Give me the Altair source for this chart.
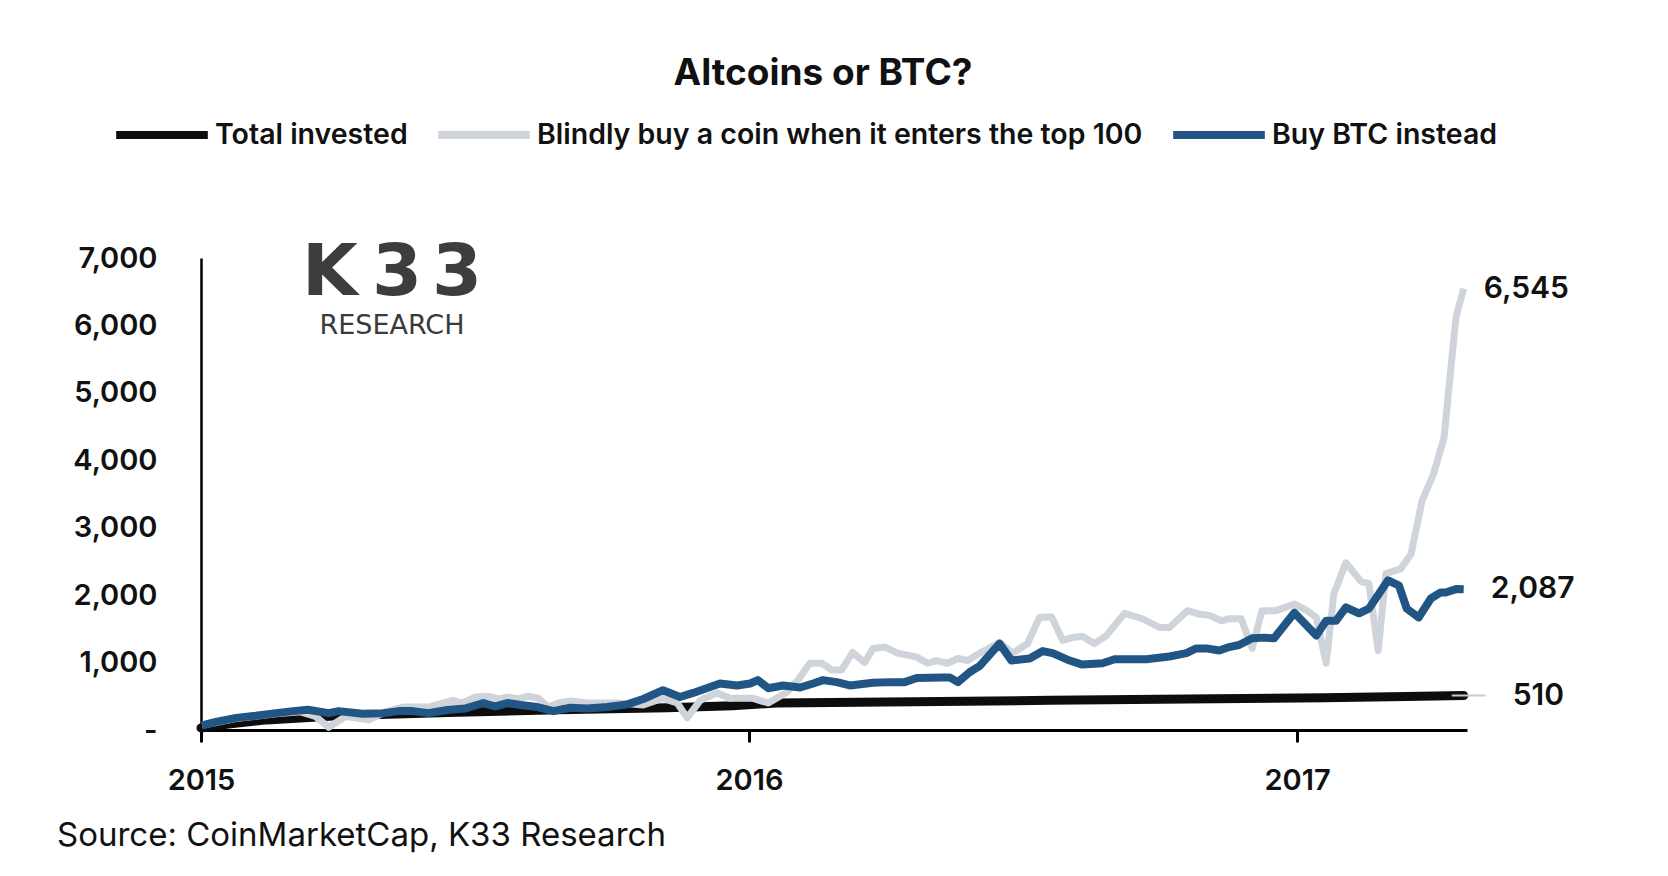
import altair as alt
import pandas as pd

FONT = "Inter"

series_names = ["Total invested", "Blindly buy a coin when it enters the top 100", "Buy BTC instead"]
series_colors = ["#0d0d0d", "#cfd4da", "#215584"]

# time in decimal years
invested_t = [2015.00, 2015.05, 2015.12, 2015.25, 2015.45, 2015.65, 2015.85, 2015.97, 2016.05,
              2016.30, 2016.55, 2016.80, 2017.05, 2017.20, 2017.304]
invested_v = [30, 90, 150, 210, 260, 300, 330, 360, 400, 420, 440, 460, 480, 495, 510]

alt_t = [2015.002, 2015.064, 2015.137, 2015.182, 2015.209, 2015.233, 2015.264, 2015.306, 2015.337,
         2015.368, 2015.415, 2015.459, 2015.477, 2015.501, 2015.525, 2015.543, 2015.561, 2015.579,
         2015.596, 2015.616, 2015.634, 2015.656, 2015.674, 2015.705, 2015.765, 2015.807, 2015.843,
         2015.869, 2015.887, 2015.911, 2015.942, 2015.965, 2016.007, 2016.035, 2016.069, 2016.089,
         2016.111, 2016.133, 2016.151, 2016.169, 2016.189, 2016.211, 2016.226, 2016.248, 2016.271,
         2016.306, 2016.326, 2016.342, 2016.362, 2016.381, 2016.399, 2016.421, 2016.435, 2016.457,
         2016.481, 2016.508, 2016.530, 2016.552, 2016.572, 2016.590, 2016.608, 2016.630, 2016.652,
         2016.685, 2016.718, 2016.749, 2016.767, 2016.800, 2016.821, 2016.840, 2016.862, 2016.876,
         2016.898, 2016.918, 2016.936, 2016.962, 2016.995, 2017.018, 2017.035, 2017.053, 2017.067,
         2017.089, 2017.117, 2017.131, 2017.148, 2017.162, 2017.189, 2017.208, 2017.228, 2017.249,
         2017.268, 2017.290, 2017.304]
alt_v = [70, 170, 240, 270, 200, 40, 200, 150, 270,
         340, 340, 440, 400, 490, 500, 460, 490, 460,
         500, 470, 340, 410, 430, 400, 400, 370, 470,
         400, 180, 440, 550, 470, 470, 400, 560, 740,
         990, 990, 890, 890, 1150, 1000, 1210, 1230, 1140,
         1080, 990, 1030, 990, 1060, 1030, 1140, 1200, 1300,
         1140, 1280, 1670, 1680, 1330, 1370, 1390, 1280, 1400,
         1730, 1650, 1520, 1520, 1770, 1720, 1700, 1620, 1650,
         1650, 1210, 1770, 1770, 1870, 1770, 1670, 990, 2020,
         2480, 2200, 2170, 1180, 2320, 2390, 2610, 3400, 3800,
         4330, 6130, 6545]

btc_t = [2015.002, 2015.027, 2015.064, 2015.100, 2015.137, 2015.168, 2015.195, 2015.233, 2015.251,
         2015.295, 2015.332, 2015.361, 2015.386, 2015.415, 2015.452, 2015.483, 2015.515, 2015.537,
         2015.559, 2015.583, 2015.614, 2015.643, 2015.674, 2015.705, 2015.741, 2015.778, 2015.807,
         2015.843, 2015.874, 2015.898, 2015.947, 2015.978, 2016.002, 2016.016, 2016.035, 2016.062,
         2016.093, 2016.117, 2016.135, 2016.160, 2016.184, 2016.226, 2016.257, 2016.284, 2016.306,
         2016.353, 2016.366, 2016.381, 2016.403, 2016.421, 2016.457, 2016.479, 2016.512, 2016.536,
         2016.554, 2016.585, 2016.608, 2016.645, 2016.667, 2016.725, 2016.767, 2016.798, 2016.816,
         2016.834, 2016.858, 2016.876, 2016.894, 2016.918, 2016.940, 2016.958, 2016.995, 2017.035,
         2017.053, 2017.071, 2017.089, 2017.113, 2017.131, 2017.166, 2017.186, 2017.200, 2017.222,
         2017.244, 2017.262, 2017.271, 2017.290, 2017.304]
btc_v = [70, 120, 180, 210, 250, 280, 300, 250, 280,
         240, 250, 280, 280, 250, 300, 320, 400, 350,
         400, 370, 340, 280, 330, 320, 340, 380, 460,
         590, 490, 550, 690, 660, 690, 740, 620, 660,
         630, 690, 740, 710, 660, 700, 710, 710, 770,
         780, 780, 710, 860, 950, 1280, 1030, 1060, 1170,
         1140, 1030, 970, 990, 1050, 1050, 1090, 1140, 1210,
         1210, 1180, 1230, 1260, 1360, 1370, 1360, 1740, 1400,
         1620, 1620, 1820, 1730, 1800, 2220, 2140, 1800, 1670,
         1950, 2040, 2040, 2090, 2087]

year_ticks = [2015, 2016, 2017]
y_ticks = [0, 1000, 2000, 3000, 4000, 5000, 6000, 7000]

df_inv = pd.DataFrame({"t": invested_t, "v": invested_v, "series": series_names[0]})
df_alt = pd.DataFrame({"t": alt_t, "v": alt_v, "series": series_names[1]})
df_btc = pd.DataFrame({"t": btc_t, "v": btc_v, "series": series_names[2]})

x_enc = alt.X("t:Q", scale=alt.Scale(domain=[2015, 2017.31], nice=False, zero=False),
              axis=alt.Axis(values=year_ticks, format="d", title=None, grid=False,
                            domainColor="#000", domainWidth=3, tickColor="#000", tickWidth=3,
                            tickSize=12, labelFont=FONT, labelFontSize=29, labelFontWeight=600,
                            labelColor="#111", labelPadding=24, labelFlush=False))
y_enc = alt.Y("v:Q", scale=alt.Scale(domain=[0, 7000], nice=False),
              axis=alt.Axis(values=y_ticks, title=None, grid=False, ticks=False,
                            domainColor="#000", domainWidth=2.5,
                            labelExpr="datum.value == 0 ? '-' : format(datum.value, ',')",
                            labelFont=FONT, labelFontSize=29, labelFontWeight=600,
                            labelColor="#111", labelPadding=44))
color_enc = alt.Color("series:N",
                      scale=alt.Scale(domain=series_names, range=series_colors),
                      legend=alt.Legend(title=None, orient="none", direction="horizontal",
                                        legendX=-89, legendY=-173, symbolType="stroke",
                                        symbolSize=8400, symbolStrokeWidth=8,
                                        labelFont=FONT, labelFontSize=28.5, labelFontWeight=600,
                                        labelColor="#111", labelLimit=900, labelOffset=3,
                                        columnPadding=14, padding=0))

line_inv = alt.Chart(df_inv).mark_line(strokeWidth=9, strokeCap="round", strokeJoin="round").encode(
    x=x_enc, y=y_enc, color=color_enc)
line_alt = alt.Chart(df_alt).mark_line(strokeWidth=7, strokeJoin="round").encode(
    x=x_enc, y=y_enc, color=color_enc)
line_btc = alt.Chart(df_btc).mark_line(strokeWidth=8, strokeJoin="round").encode(
    x=x_enc, y=y_enc, color=color_enc)

def end_label(t, v, dx):
    d = pd.DataFrame({"t": [t], "v": [v], "label": [f"{v:,}"]})
    return alt.Chart(d).mark_text(align="left", baseline="middle", dx=dx, font=FONT,
                                  fontSize=30, fontWeight=600, color="#111").encode(
        x="t:Q", y="v:Q", text="label:N")

lab_alt = end_label(alt_t[-1], alt_v[-1], 20)
lab_btc = end_label(btc_t[-1], btc_v[-1], 27)
lab_inv = end_label(invested_t[-1], invested_v[-1], 49)

leader_df = pd.DataFrame({"t": [invested_t[-1]], "v": [invested_v[-1]]})
leader = alt.Chart(leader_df).mark_rule(color="#c8cdd3", strokeWidth=2, xOffset=-12, x2Offset=22).encode(
    x="t:Q", x2="t:Q", y="v:Q")

# K33 Research logo (decoration)
logo_letters = ["K", "3", "3"]
logo_x = [129, 196, 256]
logo_df = pd.DataFrame({"s": logo_letters, "px": logo_x})
logo_main = alt.Chart(logo_df).mark_text(
    align="center", baseline="alphabetic", font="DejaVu Sans", fontSize=72, fontWeight="bold",
    color="#3d3d3d").encode(x=alt.X("px:Q", scale=None), y=alt.value(37), text="s:N")
logo_sub = alt.Chart(pd.DataFrame({"s": ["RESEARCH"]})).mark_text(
    align="center", baseline="alphabetic", font="DejaVu Sans", fontSize=27, fontWeight=400,
    color="#3a3a3a").encode(x=alt.value(191), y=alt.value(76), text="s:N")

source = alt.Chart(pd.DataFrame({"s": ["Source: CoinMarketCap, K33 Research"]})).mark_text(
    align="left", baseline="alphabetic", font=FONT, fontSize=33, fontWeight=400,
    color="#111").encode(x=alt.value(-144), y=alt.value(588), text="s:N")

chart = alt.layer(line_inv, line_alt, line_btc, leader, lab_alt, lab_btc, lab_inv,
                  logo_main, logo_sub, source).properties(
    width=1266, height=472,
    title=alt.TitleParams("Altcoins or BTC?", font=FONT, fontSize=37, fontWeight=700,
                          color="#111", anchor="middle", offset=-8, dx=-11),
    autosize=alt.AutoSizeParams(type="none"),
    padding={"left": 193, "top": 250, "right": 193, "bottom": 140},
    background="white",
).configure_view(stroke="transparent", strokeWidth=0)

chart.save("out.html", embed_options={"renderer": "svg", "actions": False})
